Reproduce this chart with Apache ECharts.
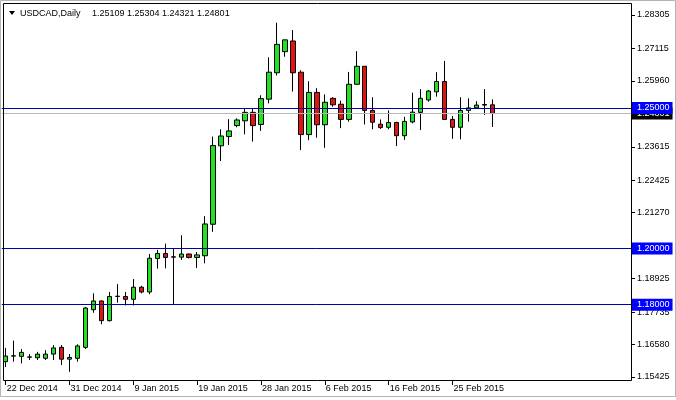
<!DOCTYPE html>
<html><head><meta charset="utf-8">
<script src="https://cdn.jsdelivr.net/npm/echarts@6/dist/echarts.min.js"></script>
<style>html,body{margin:0;padding:0;background:#fff}#c{width:676px;height:400px}</style>
</head><body><div id="c"></div>
<script>
const symbolName = 'USDCAD,Daily';
const lastBarText = '1.25109 1.25304 1.24321 1.24801';
const dates = ['22 Dec 2014','23 Dec 2014','24 Dec 2014','25 Dec 2014','26 Dec 2014','28 Dec 2014','29 Dec 2014','30 Dec 2014',
 '31 Dec 2014','1 Jan 2015','2 Jan 2015','4 Jan 2015','5 Jan 2015','6 Jan 2015','7 Jan 2015','8 Jan 2015',
 '9 Jan 2015','11 Jan 2015','12 Jan 2015','13 Jan 2015','14 Jan 2015','15 Jan 2015','16 Jan 2015','18 Jan 2015',
 '19 Jan 2015','20 Jan 2015','21 Jan 2015','22 Jan 2015','23 Jan 2015','25 Jan 2015','26 Jan 2015','27 Jan 2015',
 '28 Jan 2015','29 Jan 2015','30 Jan 2015','1 Feb 2015','2 Feb 2015','3 Feb 2015','4 Feb 2015','5 Feb 2015',
 '6 Feb 2015','8 Feb 2015','9 Feb 2015','10 Feb 2015','11 Feb 2015','12 Feb 2015','13 Feb 2015','15 Feb 2015',
 '16 Feb 2015','17 Feb 2015','18 Feb 2015','19 Feb 2015','20 Feb 2015','22 Feb 2015','23 Feb 2015','24 Feb 2015',
 '25 Feb 2015','26 Feb 2015','27 Feb 2015','1 Mar 2015','2 Mar 2015','3 Mar 2015'];
const opens = [1.1597,1.1617,1.1616,1.1613,1.1611,1.1609,1.1624,1.1648,
 1.1606,1.1609,1.1648,1.1782,1.1813,1.1743,1.1829,1.1829,
 1.1819,1.1862,1.1845,1.1964,1.1982,1.1970,1.1969,1.1980,
 1.1968,1.1974,1.2086,1.2365,1.2398,1.2437,1.2454,1.2484,
 1.2441,1.2531,1.2625,1.2700,1.2738,1.2627,1.2405,1.2555,
 1.2440,1.2534,1.2513,1.2459,1.2584,1.2648,1.2491,1.2442,
 1.2431,1.2448,1.2401,1.2450,1.2484,1.2528,1.2557,1.2594,
 1.2459,1.2431,1.2491,1.2500,1.2512,1.25109];
const closes = [1.1617,1.1618,1.1630,1.1614,1.1624,1.1624,1.1646,1.1606,
 1.1612,1.1653,1.1788,1.1813,1.1743,1.1829,1.1830,1.1819,
 1.1862,1.1845,1.1965,1.1982,1.1968,1.1969,1.1980,1.1968,
 1.1977,1.2087,1.2366,1.2400,1.2418,1.2457,1.2484,1.2437,
 1.2533,1.2627,1.2726,1.2742,1.2625,1.2405,1.2555,1.2440,
 1.2520,1.2511,1.2459,1.2584,1.2648,1.2491,1.2449,1.2430,
 1.2448,1.2401,1.2452,1.2485,1.2534,1.2560,1.2594,1.2459,
 1.2431,1.2491,1.2500,1.2510,1.2510,1.24801];
const lows = [1.1578,1.1597,1.1591,1.1603,1.1603,1.1603,1.1603,1.1585,
 1.1561,1.1597,1.1642,1.1771,1.1730,1.1740,1.1807,1.1797,
 1.1797,1.1840,1.1837,1.1928,1.1929,1.1800,1.1959,1.1964,
 1.1930,1.1947,1.2059,1.2311,1.2368,1.2431,1.2406,1.2380,
 1.2418,1.2516,1.2615,1.2682,1.2558,1.2350,1.2385,1.2394,
 1.2358,1.2504,1.2428,1.2451,1.2583,1.2441,1.2424,1.2425,
 1.2424,1.2364,1.2386,1.2445,1.2421,1.2522,1.2540,1.2459,
 1.2390,1.2388,1.2451,1.2500,1.2475,1.24321];
const highs = [1.1646,1.1672,1.1642,1.1624,1.1632,1.1638,1.1656,1.1656,
 1.1624,1.1659,1.1792,1.1840,1.1815,1.1845,1.1873,1.1845,
 1.1891,1.1867,1.1980,1.1995,1.2017,1.2000,1.2047,1.1982,
 1.1987,1.2115,1.2398,1.2424,1.2460,1.2463,1.2496,1.2497,
 1.2545,1.2680,1.2803,1.2742,1.2777,1.2634,1.2595,1.2570,
 1.2548,1.2538,1.2526,1.2628,1.2702,1.2648,1.2538,1.2459,
 1.2491,1.2451,1.2468,1.2554,1.2567,1.2564,1.2627,1.2667,
 1.2471,1.2538,1.2534,1.2524,1.2567,1.25304];
const yTickValues = [1.28305,1.27115,1.25960,1.23615,1.22425,1.21270,1.18925,1.17735,1.16580,1.15425];
const levelLines = [1.25000,1.20000,1.18000];
const bidPrice = 1.24801;
const labelEvery = 8;
const emptySlots = 17;

const cats = dates.concat(new Array(emptySlots).fill(''));
const candles = dates.map((d, i) => [opens[i], closes[i], lows[i], highs[i]]);
const showTick = (i) => i % labelEvery === 0 && i < dates.length;
const FONT = 'Liberation Sans, Arial, sans-serif';

const boxLabel = (bg) => ({
  show: true, position: 'end', distance: 0,
  formatter: (p) => Number(p.value).toFixed(5),
  backgroundColor: bg, color: '#fff', fontSize: 9, fontFamily: FONT,
  padding: [1, 3, 1, 5], lineHeight: 10
});

const chart = echarts.init(document.getElementById('c'), null, {renderer: 'canvas'});
chart.setOption({
  animation: false,
  backgroundColor: '#fff',
  grid: {left: 1.75, top: 3, right: 44, bottom: 19, containLabel: false},
  xAxis: {
    type: 'category', data: cats, boundaryGap: true,
    axisLine: {show: false},
    axisTick: {show: true, alignWithLabel: true, interval: showTick, length: 4, lineStyle: {color: '#000'}},
    axisLabel: {interval: showTick, align: 'left', margin: 3, padding: [0, 0, 0, 1],
      color: '#000', fontSize: 9, fontFamily: FONT},
    splitLine: {show: false}
  },
  yAxis: {
    type: 'value', position: 'right', scale: true,
    min: 1.152827, max: 1.28732,
    axisLine: {show: false},
    axisTick: {show: true, customValues: yTickValues, length: 3, lineStyle: {color: '#000'}},
    axisLabel: {customValues: yTickValues, formatter: (v) => v.toFixed(5), margin: 5,
      color: '#000', fontSize: 9, fontFamily: FONT},
    splitLine: {show: false}
  },
  series: [{
    type: 'candlestick',
    data: candles,
    barWidth: 5,
    itemStyle: {color: '#22e022', color0: '#e01414', borderColor: '#000', borderColor0: '#000', borderColorDoji: '#000', borderWidth: 1},
    markLine: {
      silent: true, symbol: ['none', 'none'], animation: false, precision: 5,
      data: [{name: 'bid', yAxis: bidPrice, lineStyle: {color: '#b8b8b8', width: 1, type: 'solid'}, label: boxLabel('#000')}]
    }
  }, {
    type: 'candlestick',
    data: [],
    markLine: {
      silent: true, symbol: ['none', 'none'], animation: false, precision: 5,
      data: levelLines.map(v => ({yAxis: v, lineStyle: {color: '#0000a8', width: 1, type: 'solid'}, label: boxLabel('#0000ff')}))
    }
  }],
  graphic: [
    {type: 'rect', silent: true, shape: {x: 0.5, y: 0.5, width: 675, height: 396}, style: {fill: 'none', stroke: '#b4b4b4', lineWidth: 1}},
    {type: 'rect', silent: true, z: 10, shape: {x: 3.5, y: 3.5, width: 628, height: 377}, style: {fill: 'none', stroke: '#000', lineWidth: 1}},
    {type: 'polygon', silent: true, z: 10, shape: {points: [[9, 11], [15, 11], [12, 15]]}, style: {fill: '#000'}},
    {type: 'text', silent: true, z: 10, x: 20, y: 14, style: {text: symbolName, fill: '#000', font: '9px ' + FONT, verticalAlign: 'middle'}},
    {type: 'text', silent: true, z: 10, x: 92, y: 14, style: {text: lastBarText, fill: '#000', font: '9px ' + FONT, verticalAlign: 'middle'}}
  ]
});
</script></body></html>
